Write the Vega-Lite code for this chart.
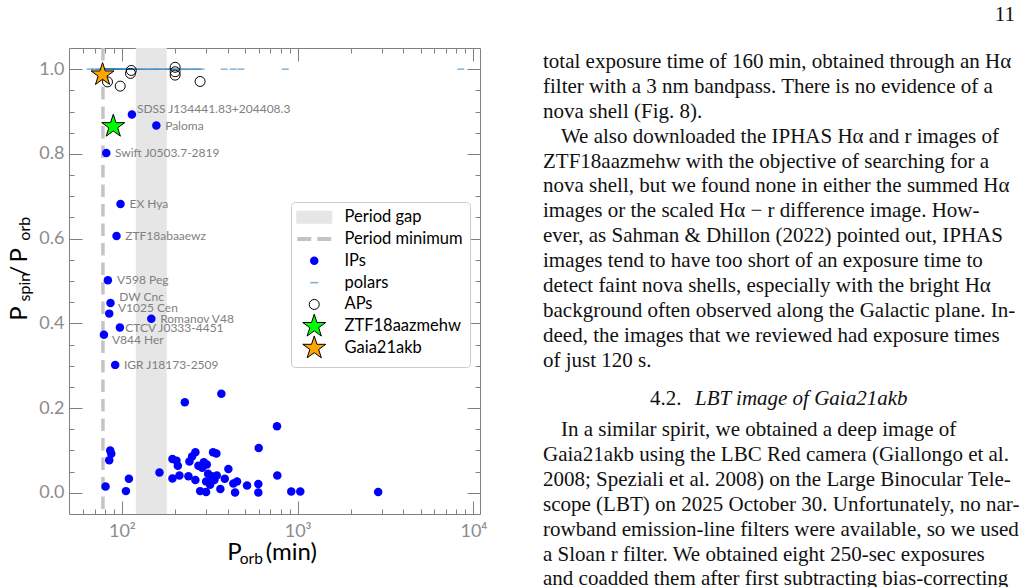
{
  "$schema": "https://vega.github.io/schema/vega-lite/v6.json",
  "background": "white",
  "padding": {"left": 7, "top": 3, "right": 0, "bottom": 0},
  "bounds": "flush",
  "spacing": 63,
  "datasets": {
    "gap": [{"lo": 120, "hi": 180}],
    "pmin": [{"P": 78}],
    "polars": [
      {"P": 66, "r": 1.0}, {"P": 70, "r": 1.0}, {"P": 74, "r": 1.0}, {"P": 77, "r": 1.0}, {"P": 79, "r": 1.0},
      {"P": 80, "r": 1.0}, {"P": 81, "r": 1.0}, {"P": 82, "r": 1.0}, {"P": 84, "r": 1.0}, {"P": 85, "r": 1.0},
      {"P": 86, "r": 1.0}, {"P": 88, "r": 1.0}, {"P": 89, "r": 1.0}, {"P": 90, "r": 1.0}, {"P": 92, "r": 1.0},
      {"P": 94, "r": 1.0}, {"P": 96, "r": 1.0}, {"P": 98, "r": 1.0}, {"P": 100, "r": 1.0}, {"P": 103, "r": 1.0},
      {"P": 106, "r": 1.0}, {"P": 109, "r": 1.0}, {"P": 112, "r": 1.0}, {"P": 114, "r": 1.0}, {"P": 116, "r": 1.0},
      {"P": 120, "r": 1.0}, {"P": 125, "r": 1.0}, {"P": 130, "r": 1.0}, {"P": 136, "r": 1.0}, {"P": 142, "r": 1.0},
      {"P": 150, "r": 1.0}, {"P": 155, "r": 1.0}, {"P": 162, "r": 1.0}, {"P": 170, "r": 1.0}, {"P": 178, "r": 1.0},
      {"P": 186, "r": 1.0}, {"P": 190, "r": 1.0}, {"P": 195, "r": 1.0}, {"P": 205, "r": 1.0}, {"P": 214, "r": 1.0},
      {"P": 224, "r": 1.0}, {"P": 234, "r": 1.0}, {"P": 246, "r": 1.0}, {"P": 258, "r": 1.0}, {"P": 270, "r": 1.0},
      {"P": 282, "r": 1.0}, {"P": 382, "r": 1.0}, {"P": 430, "r": 1.0}, {"P": 475, "r": 1.0}, {"P": 850, "r": 1.0},
      {"P": 8470, "r": 1.0}
    ],
    "points": [
      {"P": 114, "r": 0.893, "cat": "IPs"}, {"P": 157, "r": 0.867, "cat": "IPs"}, {"P": 81.5, "r": 0.802, "cat": "IPs"},
      {"P": 98.2, "r": 0.682, "cat": "IPs"}, {"P": 93.2, "r": 0.606, "cat": "IPs"}, {"P": 83.2, "r": 0.502, "cat": "IPs"},
      {"P": 86.1, "r": 0.448, "cat": "IPs"}, {"P": 84.7, "r": 0.423, "cat": "IPs"}, {"P": 147, "r": 0.411, "cat": "IPs"},
      {"P": 97.4, "r": 0.39, "cat": "IPs"}, {"P": 79.0, "r": 0.373, "cat": "IPs"}, {"P": 91.6, "r": 0.302, "cat": "IPs"},
      {"P": 762.8, "r": 0.157, "cat": "IPs"}, {"P": 600.4, "r": 0.106, "cat": "IPs"}, {"P": 85.8, "r": 0.1, "cat": "IPs"},
      {"P": 87.0, "r": 0.092, "cat": "IPs"}, {"P": 84.7, "r": 0.077, "cat": "IPs"}, {"P": 193.9, "r": 0.08, "cat": "IPs"},
      {"P": 204.3, "r": 0.076, "cat": "IPs"}, {"P": 261.9, "r": 0.096, "cat": "IPs"}, {"P": 250.8, "r": 0.086, "cat": "IPs"},
      {"P": 242.2, "r": 0.074, "cat": "IPs"}, {"P": 330.2, "r": 0.096, "cat": "IPs"}, {"P": 344.8, "r": 0.093, "cat": "IPs"},
      {"P": 208.1, "r": 0.064, "cat": "IPs"}, {"P": 272.4, "r": 0.064, "cat": "IPs"}, {"P": 292.4, "r": 0.072, "cat": "IPs"},
      {"P": 304.1, "r": 0.067, "cat": "IPs"}, {"P": 286.0, "r": 0.059, "cat": "IPs"}, {"P": 403.4, "r": 0.056, "cat": "IPs"},
      {"P": 163.6, "r": 0.048, "cat": "IPs"}, {"P": 109.6, "r": 0.033, "cat": "IPs"}, {"P": 193.9, "r": 0.034, "cat": "IPs"},
      {"P": 212.5, "r": 0.041, "cat": "IPs"}, {"P": 239.0, "r": 0.039, "cat": "IPs"}, {"P": 261.9, "r": 0.03, "cat": "IPs"},
      {"P": 309.3, "r": 0.045, "cat": "IPs"}, {"P": 324.7, "r": 0.039, "cat": "IPs"}, {"P": 346.6, "r": 0.041, "cat": "IPs"},
      {"P": 301.3, "r": 0.027, "cat": "IPs"}, {"P": 317.5, "r": 0.019, "cat": "IPs"}, {"P": 335.8, "r": 0.03, "cat": "IPs"},
      {"P": 384.8, "r": 0.033, "cat": "IPs"}, {"P": 451.9, "r": 0.027, "cat": "IPs"}, {"P": 430.6, "r": 0.022, "cat": "IPs"},
      {"P": 515.2, "r": 0.017, "cat": "IPs"}, {"P": 597.2, "r": 0.021, "cat": "IPs"}, {"P": 765.8, "r": 0.041, "cat": "IPs"},
      {"P": 80.7, "r": 0.015, "cat": "IPs"}, {"P": 105.4, "r": 0.004, "cat": "IPs"}, {"P": 278.6, "r": 0.004, "cat": "IPs"},
      {"P": 301.3, "r": 0.002, "cat": "IPs"}, {"P": 363.2, "r": 0.009, "cat": "IPs"}, {"P": 440.4, "r": 0.001, "cat": "IPs"},
      {"P": 597.2, "r": 0.001, "cat": "IPs"}, {"P": 919.5, "r": 0.003, "cat": "IPs"}, {"P": 1034.7, "r": 0.003, "cat": "IPs"},
      {"P": 2871, "r": 0.002, "cat": "IPs"}, {"P": 228.0, "r": 0.214, "cat": "IPs"}, {"P": 368.0, "r": 0.234, "cat": "IPs"},
      {"P": 82.8, "r": 0.97, "cat": "APs"}, {"P": 97.8, "r": 0.96, "cat": "APs"}, {"P": 113, "r": 0.997, "cat": "APs"},
      {"P": 111.9, "r": 0.99, "cat": "APs"}, {"P": 200.8, "r": 1.0045, "cat": "APs"}, {"P": 200.8, "r": 0.994, "cat": "APs"},
      {"P": 200.8, "r": 0.986, "cat": "APs"}, {"P": 278.5, "r": 0.971, "cat": "APs"},
      {"P": 89.3, "r": 0.865, "cat": "ZTF18aazmehw"},
      {"P": 77.6, "r": 0.987, "cat": "Gaia21akb"}
    ],
    "labels": [
      {"name": "SDSS J134441.83+204408.3", "lx": 121.7, "ly": 0.9065},
      {"name": "Paloma", "lx": 176.2, "ly": 0.8664},
      {"name": "Swift J0503.7-2819", "lx": 91.24, "ly": 0.802},
      {"name": "EX Hya", "lx": 110.4, "ly": 0.682},
      {"name": "ZTF18abaaewz", "lx": 104.4, "ly": 0.606},
      {"name": "V598 Peg", "lx": 93.67, "ly": 0.502},
      {"name": "DW Cnc", "lx": 96.5, "ly": 0.4627},
      {"name": "V1025 Cen", "lx": 94.9, "ly": 0.4363},
      {"name": "Romanov V48", "lx": 165.1, "ly": 0.4108},
      {"name": "CTCV J0333-4451", "lx": 104.4, "ly": 0.39},
      {"name": "V844 Her", "lx": 87.75, "ly": 0.3605},
      {"name": "IGR J18173-2509", "lx": 102.7, "ly": 0.3026}
    ],
    "body": [
      {"t": "total exposure time of 160 min, obtained through an Hα", "x": 0, "ln": 1},
      {"t": "filter with a 3 nm bandpass.  There is no evidence of a", "x": 0, "ln": 2},
      {"t": "nova shell (Fig. 8).", "x": 0, "ln": 3},
      {"t": "We also downloaded the IPHAS Hα and r images of", "x": 0.038, "ln": 4},
      {"t": "ZTF18aazmehw with the objective of searching for a", "x": 0, "ln": 5},
      {"t": "nova shell, but we found none in either the summed Hα", "x": 0, "ln": 6},
      {"t": "images or the scaled Hα − r difference image.  How-", "x": 0, "ln": 7},
      {"t": "ever, as Sahman & Dhillon (2022) pointed out, IPHAS", "x": 0, "ln": 8},
      {"t": "images tend to have too short of an exposure time to", "x": 0, "ln": 9},
      {"t": "detect faint nova shells, especially with the bright Hα", "x": 0, "ln": 10},
      {"t": "background often observed along the Galactic plane.  In-", "x": 0, "ln": 11},
      {"t": "deed, the images that we reviewed had exposure times", "x": 0, "ln": 12},
      {"t": "of just 120 s.", "x": 0, "ln": 13},
      {"t": "4.2.", "x": 0.2267, "ln": 14.53},
      {"t": "In a similar spirit, we obtained a deep image of", "x": 0.038, "ln": 15.79},
      {"t": "Gaia21akb using the LBC Red camera (Giallongo et al.", "x": 0, "ln": 16.79},
      {"t": "2008; Speziali et al. 2008) on the Large Binocular Tele-", "x": 0, "ln": 17.79},
      {"t": "scope (LBT) on 2025 October 30.  Unfortunately, no nar-", "x": 0, "ln": 18.79},
      {"t": "rowband emission-line filters were available, so we used", "x": 0, "ln": 19.79},
      {"t": "a Sloan r filter.  We obtained eight 250-sec exposures", "x": 0, "ln": 20.79},
      {"t": "and coadded them after first subtracting bias-correcting", "x": 0, "ln": 21.75}
    ],
    "italic": [{"t": "LBT image of Gaia21akb", "x": 0.322, "ln": 14.53}],
    "pageno": [{"t": "11", "x": 1, "ln": -0.89}]
  },
  "hconcat": [
    {
      "width": 411,
      "height": 466,
      "resolve": {"axis": {"x": "independent", "y": "independent"}},
      "layer": [
        {
          "data": {"name": "gap"},
          "mark": {"type": "rect", "color": "#e6e6e6"},
          "encoding": {
            "x": {"field": "lo", "type": "quantitative", "scale": {"type": "log", "domain": [50, 10900], "nice": false}, "axis": null},
            "x2": {"field": "hi"}
          }
        },
        {
          "data": {"name": "pmin"},
          "mark": {"type": "rule", "color": "#c4c4c4", "strokeWidth": 3.5, "strokeDash": [12.5, 7]},
          "encoding": {
            "x": {"field": "P", "type": "quantitative", "scale": {"type": "log", "domain": [50, 10900], "nice": false}, "axis": null}
          }
        },
        {
          "data": {"name": "polars"},
          "mark": {"type": "tick", "orient": "horizontal", "color": "#1f77b4", "opacity": 0.55, "size": 7, "thickness": 1.5},
          "encoding": {
            "x": {"field": "P", "type": "quantitative", "scale": {"type": "log", "domain": [50, 10900], "nice": false}, "axis": null},
            "y": {"field": "r", "type": "quantitative", "scale": {"domain": [-0.05, 1.05], "nice": false, "zero": false}, "axis": null}
          }
        },
        {
          "data": {"name": "points"},
          "mark": {"type": "point", "opacity": 1, "strokeWidth": 1},
          "encoding": {
            "x": {"field": "P", "type": "quantitative", "scale": {"type": "log", "domain": [50, 10900], "nice": false},
              "axis": {"orient": "bottom", "domain": true,
                "values": [60, 70, 80, 90, 100, 200, 300, 400, 500, 600, 700, 800, 900, 1000, 2000, 3000, 4000, 5000, 6000, 7000, 8000, 9000, 10000],
                "tickSize": {"condition": {"test": "datum.value == 100 || datum.value == 1000 || datum.value == 10000", "value": -13}, "value": -5},
                "labelPadding": 21,
                "labelExpr": "datum.value == 100 ? '10²' : datum.value == 1000 ? '10³' : datum.value == 10000 ? '10⁴' : ''",
                "title": "P\u2003\u00a0(min)", "titleX": 157.7, "titleY": 45, "titleAlign": "left", "titleBaseline": "alphabetic", "titleFontSize": 24}},
            "y": {"field": "r", "type": "quantitative", "scale": {"domain": [-0.05, 1.05], "nice": false, "zero": false},
              "axis": {"orient": "left", "domain": true,
                "values": [0, 0.05, 0.1, 0.15, 0.2, 0.25, 0.3, 0.35, 0.4, 0.45, 0.5, 0.55, 0.6, 0.65, 0.7, 0.75, 0.8, 0.85, 0.9, 0.95, 1.0],
                "tickSize": {"condition": {"test": "abs(datum.value * 5 - round(datum.value * 5)) < 0.001", "value": -13}, "value": -5},
                "labelPadding": 18,
                "labelExpr": "abs(datum.value * 5 - round(datum.value * 5)) < 0.001 ? format(datum.value, '.1f') : ''",
                "title": "P\u2003\u2002/\u2009P", "titleX": -43, "titleY": 272.3, "titleAngle": 270, "titleAlign": "left", "titleBaseline": "alphabetic", "titleFontSize": 24}},
            "shape": {"field": "cat", "type": "nominal",
              "scale": {"domain": ["Period gap", "Period minimum", "IPs", "polars", "APs", "ZTF18aazmehw", "Gaia21akb"],
                "range": ["M-3.6,-1.3H3.6V1.3H-3.6Z", "M-3.4,-0.4H-0.6V0.4H-3.4Z M0.6,-0.4H3.4V0.4H0.6Z", "circle", "M-0.8,-0.16H0.8V0.16H-0.8Z", "circle",
                  "M0,-2.42L0.5433,-0.7478L2.3017,-0.7478L0.8792,0.2856L1.4225,1.9578L0,0.9244L-1.4225,1.9578L-0.8792,0.2856L-2.3017,-0.7478L-0.5433,-0.7478Z",
                  "M0,-2.42L0.5433,-0.7478L2.3017,-0.7478L0.8792,0.2856L1.4225,1.9578L0,0.9244L-1.4225,1.9578L-0.8792,0.2856L-2.3017,-0.7478L-0.5433,-0.7478Z"]},
              "legend": {"orient": "none", "legendX": 222, "legendY": 154, "title": null}},
            "fill": {"field": "cat", "type": "nominal",
              "scale": {"domain": ["Period gap", "Period minimum", "IPs", "polars", "APs", "ZTF18aazmehw", "Gaia21akb"],
                "range": ["#e6e6e6", "#c4c4c4", "#0000ff", "#7fb1d6", "rgba(255,255,255,0)", "#00ff00", "#ffa500"]},
              "legend": {"orient": "none", "legendX": 222, "legendY": 154, "title": null}},
            "stroke": {"field": "cat", "type": "nominal",
              "scale": {"domain": ["Period gap", "Period minimum", "IPs", "polars", "APs", "ZTF18aazmehw", "Gaia21akb"],
                "range": ["rgba(255,255,255,0)", "rgba(255,255,255,0)", "rgba(255,255,255,0)", "rgba(255,255,255,0)", "#000000", "#000000", "#000000"]},
              "legend": {"orient": "none", "legendX": 222, "legendY": 154, "title": null}},
            "size": {"field": "cat", "type": "nominal",
              "scale": {"type": "ordinal", "domain": ["Period gap", "Period minimum", "IPs", "polars", "APs", "ZTF18aazmehw", "Gaia21akb"],
                "range": [100, 100, 72, 100, 100, 100, 100]},
              "legend": {"orient": "none", "legendX": 222, "legendY": 154, "title": null}}
          }
        },
        {
          "data": {"name": "labels"},
          "mark": {"type": "text", "align": "left", "baseline": "middle", "font": "Lato", "fontSize": 12, "color": "#808080"},
          "encoding": {
            "x": {"field": "lx", "type": "quantitative", "scale": {"type": "log", "domain": [50, 10900], "nice": false},
              "axis": {"orient": "top", "domain": true, "labels": false,
                "values": [60, 70, 80, 90, 100, 200, 300, 400, 500, 600, 700, 800, 900, 1000, 2000, 3000, 4000, 5000, 6000, 7000, 8000, 9000, 10000],
                "tickSize": {"condition": {"test": "datum.value == 100 || datum.value == 1000 || datum.value == 10000", "value": -13}, "value": -5},
                "title": "orb", "titleX": 170.3, "titleY": 515.7, "titleAlign": "left", "titleBaseline": "alphabetic", "titleFontSize": 15.5}},
            "y": {"field": "ly", "type": "quantitative", "scale": {"domain": [-0.05, 1.05], "nice": false, "zero": false},
              "axis": {"orient": "right", "domain": true, "labels": false,
                "values": [0, 0.05, 0.1, 0.15, 0.2, 0.25, 0.3, 0.35, 0.4, 0.45, 0.5, 0.55, 0.6, 0.65, 0.7, 0.75, 0.8, 0.85, 0.9, 0.95, 1.0],
                "tickSize": {"condition": {"test": "abs(datum.value * 5 - round(datum.value * 5)) < 0.001", "value": -13}, "value": -5},
                "title": "spin\u2003\u2003\u00a0\u00a0orb", "titleX": -451, "titleY": 253, "titleAngle": 270, "titleAlign": "left", "titleBaseline": "alphabetic", "titleFontSize": 16}},
            "text": {"field": "name"}
          }
        }
      ]
    },
    {
      "width": 472,
      "height": 466,
      "layer": [
        {
          "data": {"name": "body"},
          "mark": {"type": "text", "align": "left", "baseline": "middle", "font": "Liberation Serif", "fontSize": 21, "color": "#111111"},
          "encoding": {
            "x": {"field": "x", "type": "quantitative", "scale": {"domain": [0, 1], "nice": false, "zero": false}, "axis": null},
            "y": {"field": "ln", "type": "quantitative", "scale": {"domain": [0.4378, 19.153], "nice": false, "zero": false, "reverse": true}, "axis": null},
            "text": {"field": "t"}
          }
        },
        {
          "data": {"name": "italic"},
          "mark": {"type": "text", "align": "left", "baseline": "middle", "font": "Liberation Serif", "fontStyle": "italic", "fontSize": 21, "color": "#111111"},
          "encoding": {
            "x": {"field": "x", "type": "quantitative", "scale": {"domain": [0, 1], "nice": false, "zero": false}, "axis": null},
            "y": {"field": "ln", "type": "quantitative", "scale": {"domain": [0.4378, 19.153], "nice": false, "zero": false, "reverse": true}, "axis": null},
            "text": {"field": "t"}
          }
        },
        {
          "data": {"name": "pageno"},
          "mark": {"type": "text", "align": "right", "baseline": "middle", "font": "Liberation Serif", "fontSize": 21, "color": "#111111"},
          "encoding": {
            "x": {"field": "x", "type": "quantitative", "scale": {"domain": [0, 1], "nice": false, "zero": false}, "axis": null},
            "y": {"field": "ln", "type": "quantitative", "scale": {"domain": [0.4378, 19.153], "nice": false, "zero": false, "reverse": true}, "axis": null},
            "text": {"field": "t"}
          }
        }
      ]
    }
  ],
  "config": {
    "font": "Lato",
    "view": {"stroke": null},
    "axis": {
      "grid": false, "domainColor": "#808080", "domainWidth": 1, "tickColor": "#808080", "tickWidth": 1,
      "labelColor": "#8c8c8c", "labelFont": "Lato", "labelFontSize": 18, "labelFlush": false, "labelOverlap": false, "labelBound": false,
      "titleFont": "Lato", "titleColor": "#000000", "titleFontWeight": "normal"
    },
    "legend": {
      "labelFont": "Lato", "labelFontSize": 16.5, "labelColor": "#000000", "fillColor": "#ffffff", "strokeColor": "#cccccc",
      "cornerRadius": 4, "padding": 7, "symbolOffset": 8, "symbolOpacity": 1, "symbolStrokeWidth": 1, "labelOffset": 22, "rowPadding": -5.2, "gridAlign": "all"
    }
  }
}
